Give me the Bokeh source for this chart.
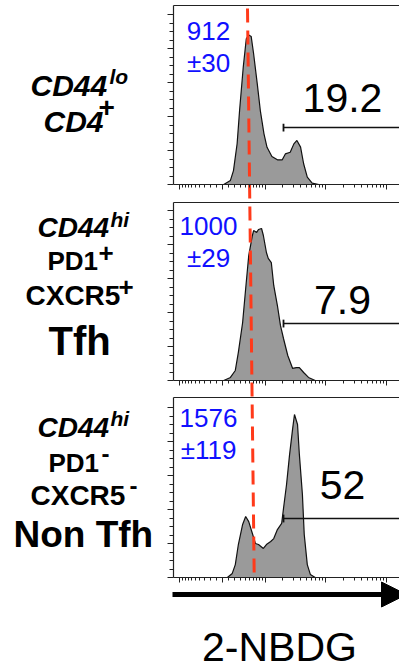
import numpy as np
from bokeh.plotting import figure
from bokeh.models import FixedTicker, Label, Arrow, NormalHead, Range1d, LinearAxis
from bokeh.embed import file_html
from bokeh.resources import INLINE

# ---------------- data ----------------
# x values are logicle-like display units (asinh transform, in decades)
COF = 417.0
def T(v):
    return np.arcsinh(np.asarray(v, dtype=float) / COF) / np.log(10)

major_vals = [-1000, 0, 1000, 10000, 100000]
minor_vals = ([-v for v in range(100, 1000, 100)] + list(range(100, 1000, 100)) +
              list(range(2000, 10000, 1000)) + list(range(20000, 100000, 10000)))
y_major = [0, 20, 40, 60, 80, 100]
y_minor = [v for v in range(0, 105, 5) if v % 20]

mfi = ["912", "1000", "1576"]
mfi_sem = ["\u00b130", "\u00b129", "\u00b1119"]
gate_pct = ["19.2", "7.9", "52"]
gate_start = [1.0, 1.0, 1.0]
gate_level = [33.5, 33.5, 34.7]
ref_line_x = [0.41, 0.52]   # dashed reference line (top of stack -> bottom of last panel)

h1_x = [0.02, 0.13, 0.18, 0.24, 0.28, 0.34, 0.39, 0.43, 0.47, 0.51, 0.57, 0.62, 0.68,
        0.73, 0.81, 0.90, 0.98, 1.03, 1.11, 1.17, 1.22, 1.28, 1.33, 1.39, 1.47, 1.58]
h1_y = [0, 2.4, 8.2, 24.1, 43.5, 69.0, 85.7, 88.0, 87.1, 76.9, 59.2, 43.5, 29.8,
        21.9, 16.5, 14.5, 14.5, 18.0, 19.0, 23.9, 25.9, 22.0, 12.2, 4.3, 0.8, 0]

h2_x = [0.02, 0.13, 0.21, 0.26, 0.33, 0.38, 0.43, 0.49, 0.51, 0.56, 0.59, 0.64, 0.67,
        0.72, 0.75, 0.80, 0.84, 0.90, 0.95, 1.00, 1.07, 1.15, 1.21, 1.26, 1.33, 1.41, 1.52]
h2_y = [0, 1.8, 5.9, 16.5, 34.1, 54.1, 73.5, 85.3, 88.2, 87.1, 88.8, 89.4, 85.3,
        75.3, 71.8, 69.4, 55.9, 44.1, 32.4, 24.7, 14.7, 7.1, 7.6, 7.6, 4.7, 1.8, 0]

h3_x = [0.08, 0.16, 0.21, 0.26, 0.33, 0.38, 0.43, 0.49, 0.54, 0.59, 0.67, 0.72, 0.79,
        0.84, 0.90, 0.97, 1.00, 1.05, 1.10, 1.15, 1.18, 1.23, 1.26, 1.31, 1.34, 1.39, 1.44, 1.52]
h3_y = [0, 2.4, 7.6, 19.4, 31.2, 35.9, 32.9, 25.9, 20.0, 19.4, 17.1, 19.4, 21.2,
        22.9, 28.2, 31.8, 40.6, 54.7, 72.4, 87.6, 95.9, 90.0, 72.4, 48.8, 25.3, 7.6, 1.8, 0]

hist_x = [h1_x, h2_x, h3_x]
hist_y = [h1_y, h2_y, h3_y]

# ---------------- layout (page pixels) ----------------
FONT = "Liberation Sans"
W, H = 399, 671
X0PX, PXU = 222.0, 61.0          # page x of display value 0, px per display unit
FRAME_L = 173
tops = [5, 202, 397]
bottoms = [184, 380, 577]
PY = 20.0 / 34.0                 # y units per px
AX = "#222222"
BASE_K = 0.37                    # baseline correction (fraction of font size)

def dx(px):
    return (px - X0PX) / PXU

x_left = dx(FRAME_L)
x_right = dx(W + 10)

p = figure(width=W, height=H, output_backend="svg", toolbar_location=None,
           x_range=Range1d(dx(0), dx(W)), y_range=Range1d(0, H),
           x_axis_type=None, y_axis_type=None, min_border=0)
p.outline_line_color = None
p.background_fill_color = None
p.border_fill_color = None
p.extra_y_ranges = {f"p{i}": Range1d((bottoms[i] - H) * PY, bottoms[i] * PY) for i in range(3)}

def style_axis(ax, tick_out, minor_out):
    ax.major_label_text_font_size = "1px"
    ax.major_label_text_color = None
    ax.major_label_standoff = 0
    ax.axis_line_color = AX
    ax.axis_line_width = 1.2
    ax.major_tick_line_color = AX
    ax.minor_tick_line_color = AX
    ax.major_tick_in = 0
    ax.minor_tick_in = 0
    ax.major_tick_out = tick_out
    ax.minor_tick_out = minor_out

for i in range(3):
    rn = f"p{i}"
    top_val = (bottoms[i] - tops[i]) * PY
    ya = LinearAxis(y_range_name=rn, fixed_location=x_left, bounds=(0, top_val),
                    ticker=FixedTicker(ticks=y_major, minor_ticks=y_minor))
    style_axis(ya, 6, 4)
    p.add_layout(ya, "left")
    xa = LinearAxis(y_range_name=rn, fixed_location=0, bounds=(x_left, x_right),
                    ticker=FixedTicker(ticks=list(T(major_vals)), minor_ticks=list(T(minor_vals))))
    style_axis(xa, 5, 3)
    p.add_layout(xa, "below")
    # top edge of the panel box
    p.segment(x0=[x_left], y0=[top_val], x1=[x_right], y1=[top_val], y_range_name=rn,
              line_color=AX, line_width=1.2)
    # histogram
    p.patch(hist_x[i], hist_y[i], y_range_name=rn,
            fill_color="#9a9a9a", line_color="#111111", line_width=1.2)
    # gate
    p.segment(x0=[gate_start[i]], y0=[gate_level[i]], x1=[x_right], y1=[gate_level[i]],
              y_range_name=rn, line_color="#111111", line_width=1.5)
    p.segment(x0=[gate_start[i]], y0=[gate_level[i] - 2.3], x1=[gate_start[i]], y1=[gate_level[i] + 2.3],
              y_range_name=rn, line_color="#111111", line_width=1.8)

# dashed reference line through all panels
p.segment(x0=[ref_line_x[0]], y0=[(bottoms[2] - 8) * PY], x1=[ref_line_x[1]], y1=[0],
          y_range_name="p2", line_color="#ff3a1a", line_width=3, line_dash="14 8")

def lab(i, text, px, py, size, style="normal", align="left", color="black"):
    py_adj = py - BASE_K * size
    p.add_layout(Label(x=dx(px), y=(bottoms[i] - py_adj) * PY, y_range_name=f"p{i}",
                       text=text, text_font=FONT,
                       text_font_size=f"{size}px", text_font_style=style, text_color=color,
                       text_align=align, text_baseline="alphabetic"))

for i in range(3):
    base1 = [40, 235, 427][i]
    lab(i, mfi[i], 208, base1, 26, align="center", color="#1010ff")
    lab(i, mfi_sem[i], 208, base1 + 32, 26, align="center", color="#1010ff")
    lab(i, gate_pct[i], 342, [113, 315, 500][i], 41, align="center")

# panel 1 labels
lab(0, "CD44", 30, 96, 30, "bold italic")
lab(0, "lo", 109, 84, 21, "bold italic")
lab(0, "CD4", 43, 132, 30, "bold italic")
lab(0, "+", 98, 117, 28, "bold")
# panel 2 labels
lab(1, "CD44", 37, 237, 28, "bold italic")
lab(1, "hi", 110, 227, 21, "bold italic")
lab(1, "PD1", 47, 270, 26, "bold")
lab(1, "+", 98, 262, 26, "bold")
lab(1, "CXCR5", 25, 305, 28, "bold")
lab(1, "+", 118, 296, 26, "bold")
lab(1, "Tfh", 48, 355, 40, "bold")
# panel 3 labels
lab(2, "CD44", 37, 437, 28, "bold italic")
lab(2, "hi", 110, 426, 21, "bold italic")
lab(2, "PD1", 48, 472, 26, "bold")
lab(2, "-", 101, 462, 24, "bold")
lab(2, "CXCR5", 30, 505, 28, "bold")
lab(2, "-", 129, 494, 24, "bold")
lab(2, "Non Tfh", 13, 548, 37, "bold")

# axis arrow and label under the last panel
ya_arrow = (bottoms[2] - 594) * PY
p.add_layout(Arrow(end=NormalHead(size=25, fill_color="black", line_color="black", line_width=1),
                   x_start=dx(172), y_start=ya_arrow, x_end=dx(406), y_end=ya_arrow,
                   y_range_name="p2", line_color="black", line_width=5))
lab(2, "2-NBDG", 279, 662, 41, align="center")

open("out.html", "w").write(file_html(p, INLINE))
